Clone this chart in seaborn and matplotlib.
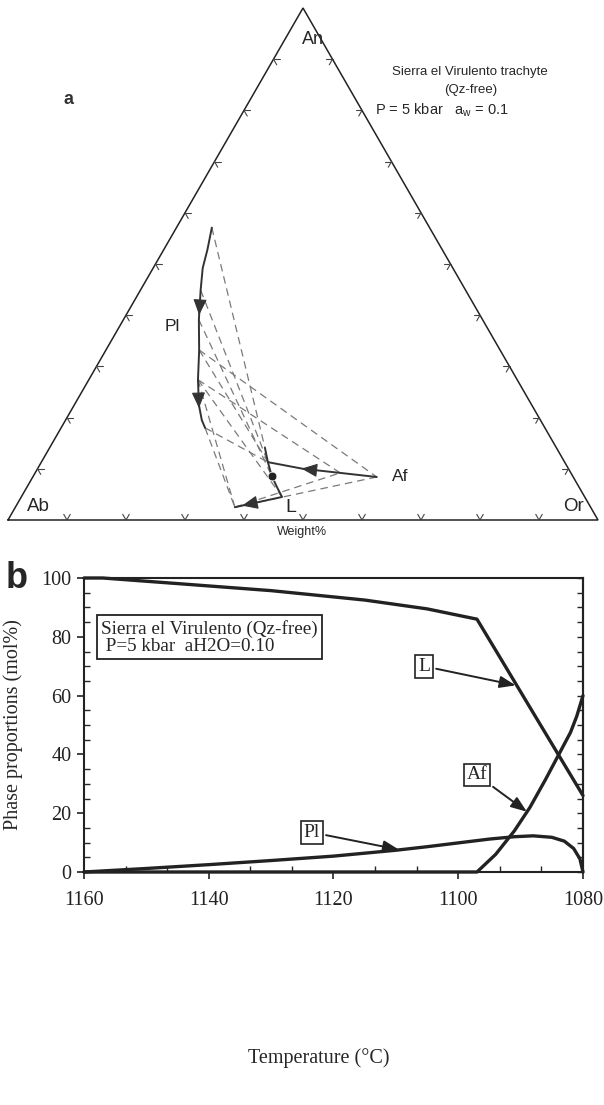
import numpy as np
import pandas as pd
import matplotlib
matplotlib.use("Agg")
import matplotlib.pyplot as plt
from matplotlib.ticker import MultipleLocator
import seaborn as sns

# ---------------- panel b data (Temperature °C, mol%) ----------------
L_T = [1160, 1157, 1145, 1130, 1115, 1105, 1097, 1093, 1088, 1084, 1080]
L_val = [100, 100, 98.1, 95.7, 92.5, 89.5, 86.0, 71.9, 54.2, 40.1, 26.0]
Af_T = [1160, 1097, 1094, 1091, 1088.5, 1086, 1084, 1082, 1081, 1080]
Af_val = [0, 0, 6, 14, 22, 31.5, 39.5, 47.5, 53, 60]
Pl_T = [1160, 1150, 1140, 1130, 1120, 1110, 1105, 1100, 1095, 1091, 1088,
        1085, 1083, 1081.5, 1080.5, 1080]
Pl_val = [0, 1.2, 2.5, 3.9, 5.4, 7.4, 8.6, 9.9, 11.2, 12.0, 12.3,
          11.8, 10.5, 8.0, 4.5, 0]
x_ticks = [1160, 1140, 1120, 1100, 1080]
y_ticks = [0, 20, 40, 60, 80, 100]

# ---------------- panel a data (ternary, weight% An / Or) ----------------
Pl_An = [57.1, 52.8, 49.2, 44.9, 39.1, 33.2, 27.4, 22.5, 19.5, 18.0]
Pl_Or = [6.0, 7.4, 8.4, 10.2, 12.8, 15.8, 18.5, 21.1, 23.1, 24.4]
Lq_An = [14.1, 11.3, 8.6, 6.4, 4.5, 2.5]
Lq_Or = [36.5, 38.4, 40.4, 42.4, 44.2, 37.2]
AfC_An = [8.4, 9.2, 10.0, 11.3]
AfC_Or = [58.3, 51.7, 45.0, 38.4]
bulk_An = [8.6]
bulk_Or = [40.4]
tie_from_An = [57.1, 44.9, 39.1, 33.2, 33.2, 27.4, 27.4, 27.4, 18.0, 18.0, 2.5, 2.5]
tie_from_Or = [6.0, 10.2, 12.8, 15.8, 15.8, 18.5, 18.5, 18.5, 24.4, 24.4, 37.2, 37.2]
tie_to_An = [14.1, 11.3, 8.6, 8.4, 11.3, 9.2, 4.5, 2.5, 2.5, 11.3, 8.4, 9.2]
tie_to_Or = [36.5, 38.4, 40.4, 58.3, 38.4, 51.7, 44.2, 37.2, 37.2, 38.4, 58.3, 51.7]

sns.set_theme(style="ticks")
plt.rcParams['font.family'] = ['Liberation Serif', 'DejaVu Serif']
plt.rcParams['mathtext.fontset'] = 'custom'
plt.rcParams['mathtext.rm'] = 'Liberation Sans'

fig = plt.figure(figsize=(6.04, 11.05), dpi=100)
fig.patch.set_facecolor('white')

SANS = ['Liberation Sans', 'DejaVu Sans']
SQ = np.sqrt(3) / 2


def tern(an, orr):
    an = np.asarray(an, float) / 100.0
    orr = np.asarray(orr, float) / 100.0
    return orr + an / 2.0, an * SQ


# ================= panel a : ternary =================
axa = fig.add_axes([8 / 604, (1105 - 520) / 1105, 590 / 604, 512 / 1105])
axa.set_xlim(0, 1)
axa.set_ylim(0, SQ)
axa.axis('off')

axa.plot([0, 1, 0.5, 0], [0, 0, SQ, 0], color='#222222', lw=1.1, clip_on=False,
         solid_joinstyle='miter')

t = 0.011
for k in range(1, 10):
    f = k / 10
    segs = [((f, 0), (0.5, SQ)), ((f, 0), (-0.5, SQ)),
            ((f / 2, f * SQ), (1, 0)), ((f / 2, f * SQ), (0.5, -SQ)),
            ((1 - f / 2, f * SQ), (-1, 0)), ((1 - f / 2, f * SQ), (-0.5, -SQ))]
    for (p, d) in segs:
        axa.plot([p[0], p[0] + d[0] * t], [p[1], p[1] + d[1] * t],
                 color='#444444', lw=0.8)

# dashed tie lines
for a1, o1, a2, o2 in zip(tie_from_An, tie_from_Or, tie_to_An, tie_to_Or):
    xs, ys = tern([a1, a2], [o1, o2])
    axa.plot(xs, ys, color='#7a7a7a', lw=0.9, dashes=(6, 4))

# solid evolution paths
for an, orr in [(Pl_An, Pl_Or), (Lq_An, Lq_Or), (AfC_An, AfC_Or)]:
    xs, ys = tern(an, orr)
    df = pd.DataFrame({'x': xs, 'y': ys, 'i': np.arange(len(xs))})
    sns.lineplot(data=df, x='x', y='y', sort=False, estimator=None,
                 color='#333333', lw=1.4, ax=axa, legend=False)
axa.set_xlabel('')
axa.set_ylabel('')
axa.axis('off')

bx, by = tern(bulk_An, bulk_Or)
sns.scatterplot(x=bx, y=by, color='#222222', s=40, ax=axa, zorder=5, legend=False)
axa.axis('off')


def tarrow(an, orr, i, frac):
    xs, ys = tern(an, orr)
    p0 = np.array([xs[i], ys[i]])
    p1 = np.array([xs[i + 1], ys[i + 1]])
    d = (p1 - p0) / np.hypot(*(p1 - p0))
    c = p0 + frac * (p1 - p0)
    axa.annotate('', xy=c + d * 0.012, xytext=c - d * 0.012,
                 arrowprops=dict(arrowstyle='-|>,head_length=0.7,head_width=0.3',
                                 color='#333333', lw=0.8, mutation_scale=14,
                                 shrinkA=0, shrinkB=0))


tarrow(Pl_An, Pl_Or, 3, 0.6)
tarrow(Pl_An, Pl_Or, 6, 0.85)
tarrow(AfC_An, AfC_Or, 1, 0.85)
tarrow(Lq_An, Lq_Or, 4, 0.7)

axa.text(0.1017, 0.7107, 'a', fontsize=13, fontweight='bold', family=SANS,
         ha='center', va='center', color='#333333')
axa.text(0.517, 0.812, 'An', fontsize=13, family=SANS, ha='center', va='center')
axa.text(0.783, 0.757, 'Sierra el Virulento trachyte', fontsize=9.5, family=SANS,
         ha='center', va='center')
axa.text(0.785, 0.727, '(Qz-free)', fontsize=9.5, family=SANS, ha='center', va='center')
axa.text(0.622, 0.693, r'P = 5 kbar   a$_{\mathrm{w}}$ = 0.1', fontsize=10.5,
         family=SANS, ha='left', va='center')
axa.text(0.278, 0.327, 'Pl', fontsize=12.5, family=SANS, ha='center', va='center')
axa.text(0.664, 0.073, 'Af', fontsize=12.5, family=SANS, ha='center', va='center')
axa.text(0.4797, 0.021, 'L', fontsize=14, family=SANS, ha='center', va='center')
axa.text(0.051, 0.022, 'Ab', fontsize=13.5, family=SANS, ha='center', va='center')
axa.text(0.959, 0.022, 'Or', fontsize=13.5, family=SANS, ha='center', va='center')
axa.text(0.498, -0.021, 'Weight%', fontsize=9, family=SANS, ha='center', va='center',
         clip_on=False)

# ================= panel b : phase proportions =================
axb = fig.add_axes([84 / 604, (1105 - 872) / 1105, 499 / 604, 294 / 1105])
frames = []
for name, T, v in [('L', L_T, L_val), ('Af', Af_T, Af_val), ('Pl', Pl_T, Pl_val)]:
    frames.append(pd.DataFrame({'T': T, 'val': v, 'phase': name}))
dfb = pd.concat(frames, ignore_index=True)
sns.lineplot(data=dfb, x='T', y='val', hue='phase',
             palette={'L': '#222222', 'Af': '#222222', 'Pl': '#222222'},
             estimator=None, sort=False, lw=2.4, legend=False, ax=axb,
             clip_on=False)
axb.set_xlim(1160, 1080)
axb.set_ylim(0, 100)
axb.set_xticks(x_ticks)
axb.set_yticks(y_ticks)
axb.set_xticklabels([str(v) for v in x_ticks])
axb.set_yticklabels([str(v) for v in y_ticks])
axb.xaxis.set_minor_locator(MultipleLocator(20 / 3))
axb.yaxis.set_minor_locator(MultipleLocator(5))
for s in axb.spines.values():
    s.set_linewidth(1.5)
    s.set_color('#222222')
axb.tick_params(which='major', direction='out', length=5, width=1.2,
                labelsize=14.5, colors='#222222', right=False, top=False, pad=4)
axb.tick_params(axis='x', which='major', pad=9)
axb.tick_params(which='minor', direction='in', length=4, width=1.0,
                right=False, top=False)
sec = axb.secondary_yaxis('right')
sec.set_yticks(y_ticks)
sec.yaxis.set_minor_locator(MultipleLocator(5))
sec.tick_params(which='both', direction='in', length=4, width=1.0, labelright=False)
sec.spines['right'].set_linewidth(1.5)

axb.set_xlabel('Temperature (°C)', fontsize=14.5)
axb.set_ylabel('Phase proportions (mol%)', fontsize=14.5)
axb.xaxis.set_label_coords(0.47, -0.60)
axb.yaxis.set_label_coords(-0.122, 0.5)

axb.text(1157.3, 85.8, 'Sierra el Virulento (Qz-free)\n P=5 kbar  aH2O=0.10',
         fontsize=13.8, ha='left', va='top', linespacing=1.0,
         bbox=dict(boxstyle='square,pad=0.22', fc='white', ec='#222222', lw=1.3))

box = dict(boxstyle='square,pad=0.15', fc='white', ec='#222222', lw=1.2)
arr = dict(arrowstyle='-|>,head_length=0.8,head_width=0.3', color='#222222',
           lw=1.4, mutation_scale=12, shrinkA=2, shrinkB=0)
axb.annotate('L', xy=(1090.8, 63.5), xytext=(1105.5, 70), fontsize=14,
             ha='center', va='center', bbox=box, arrowprops=arr)
axb.annotate('Af', xy=(1089, 20.5), xytext=(1097, 33), fontsize=14,
             ha='center', va='center', bbox=box, arrowprops=arr)
axb.annotate('Pl', xy=(1109.5, 7.6), xytext=(1123.5, 13.5), fontsize=14,
             ha='center', va='center', bbox=box, arrowprops=arr)

fig.text(17 / 604, 1 - 578 / 1105, 'b', fontsize=26, fontweight='bold',
         family=SANS, ha='center', va='center')

fig.savefig('out.png', dpi=100)
